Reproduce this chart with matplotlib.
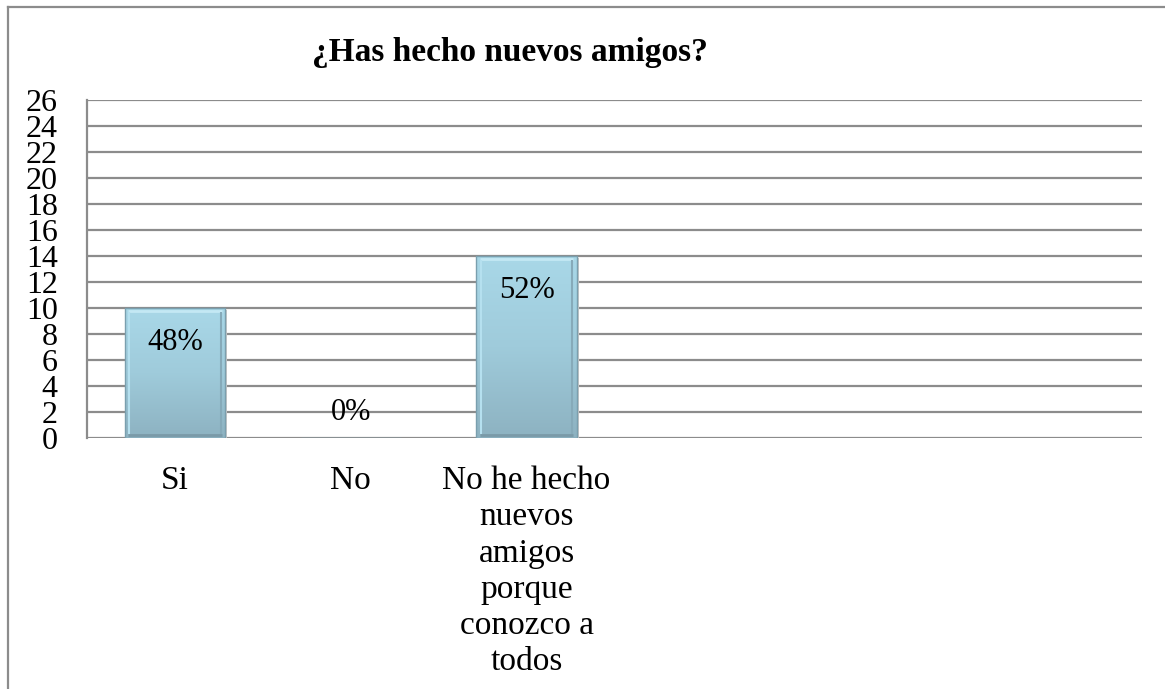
import matplotlib
matplotlib.use("Agg")
import matplotlib.pyplot as plt
import numpy as np
from matplotlib.colors import LinearSegmentedColormap
from matplotlib.lines import Line2D

categories = ["Si", "No", "No he hecho\nnuevos\namigos\nporque\nconozco a\ntodos"]
values = [10, 0, 14]
pct_labels = ["48%", "0%", "52%"]
yticks = list(range(0, 27, 2))
title = "¿Has hecho nuevos amigos?"
n_slots = 6

plt.rcParams['font.family'] = ['Liberation Serif', 'DejaVu Serif']

fig = plt.figure(figsize=(11.65, 6.89), dpi=100)
ax = fig.add_axes([87/1165, 1 - 438/689, (1142-87)/1165, (438-100)/689])

grid_c = '#8c8c8c'
ax.set_xlim(-0.5, n_slots - 0.5)
ax.set_ylim(0, 26)
ax.set_yticks(yticks)
ax.set_yticklabels([str(t) for t in yticks], fontsize=23, linespacing=1)
ax.set_xticks(range(len(categories)))
ax.set_xticklabels(categories, fontsize=24, linespacing=1.24, va='top')
ax.tick_params(axis='x', length=0, pad=20)
ax.tick_params(axis='y', length=0, pad=21)
ax.grid(axis='y', color=grid_c, linewidth=1.6)
ax.set_axisbelow(True)
for s in ['top', 'right', 'bottom']:
    ax.spines[s].set_visible(False)
ax.spines['left'].set_color(grid_c)
ax.spines['left'].set_linewidth(1.6)

cmap = LinearSegmentedColormap.from_list('b', ['#8db2c1', '#9fcbdb', '#a9d8e8'])
width = 0.57
bars = ax.bar(range(len(values)), values, width=width, color='none',
              edgecolor='#7a9fae', linewidth=1.0, zorder=3)
grad = np.linspace(0, 1, 256).reshape(-1, 1)
for b in bars:
    h = b.get_height()
    if h <= 0:
        continue
    x0 = b.get_x()
    ax.bar(x0 + width/2 + 0.012, h, width=width, bottom=-0.15, color='#c8c8c8',
           zorder=2, linewidth=0)
    im = ax.imshow(grad, cmap=cmap, aspect='auto', origin='lower',
                   extent=[x0, x0 + width, 0, h], zorder=2.5)
    im.set_clip_path(b)
    ax.plot([x0 + 0.02, x0 + width - 0.02], [h - 0.25, h - 0.25], color='#c4e8f4',
            lw=2, zorder=2.6, solid_capstyle='butt')
    ax.plot([x0 + 0.025, x0 + 0.025], [0.3, h - 0.3], color='#b5e0ef',
            lw=1.5, zorder=2.6, solid_capstyle='butt')
    ax.plot([x0 + width - 0.025, x0 + width - 0.025], [0.3, h - 0.3], color='#86aab9',
            lw=1.5, zorder=2.6, solid_capstyle='butt')
    ax.plot([x0 + 0.02, x0 + width - 0.02], [0.2, 0.2], color='#7a9aa8',
            lw=2, zorder=2.6, solid_capstyle='butt')
ax.set_xlim(-0.5, n_slots - 0.5)

for i, (v, lab) in enumerate(zip(values, pct_labels)):
    if v > 0:
        ax.annotate(lab, (i, v), xytext=(0, -34), textcoords='offset pixels',
                    ha='center', va='center', fontsize=22, zorder=5)
    else:
        ax.annotate(lab, (i, v), xytext=(0, 26), textcoords='offset pixels',
                    ha='center', va='center', fontsize=22, zorder=5)

fig.text(510/1165, 1 - 53/689, title, ha='center', va='center',
         fontsize=24, fontweight='bold')

fig.add_artist(Line2D([8/1165, 8/1165], [0, 1 - 7/689], transform=fig.transFigure,
                      color=grid_c, lw=1.6))
fig.add_artist(Line2D([8/1165, 1], [1 - 7/689, 1 - 7/689], transform=fig.transFigure,
                      color=grid_c, lw=1.6))

fig.savefig('out.png', dpi=100)
